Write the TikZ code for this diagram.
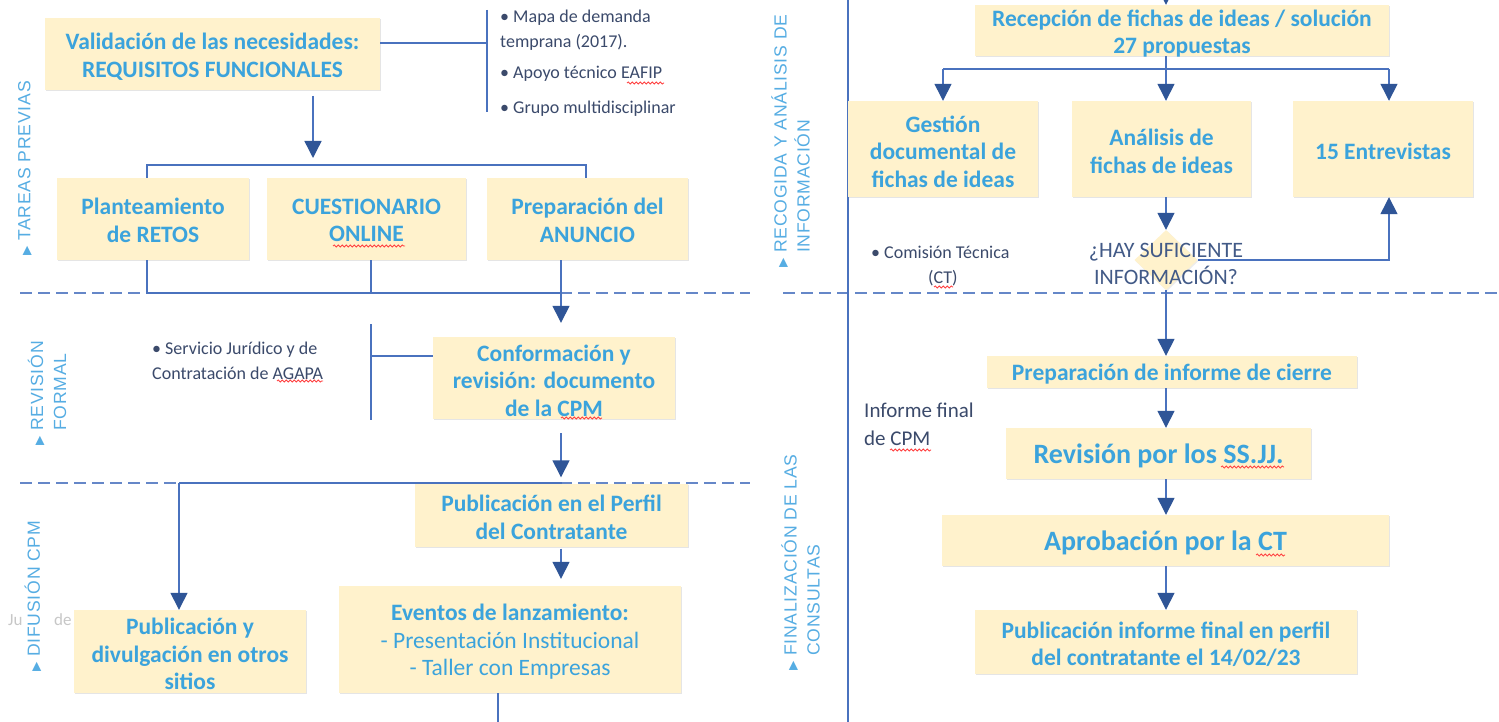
\documentclass[tikz,border=0pt]{standalone}
\usepackage{fontspec}
\setmainfont{Carlito}
\newfontfamily\arialf{Liberation Sans}[LetterSpace=4.5]
\newfontfamily\dejavu{DejaVu Sans}
\usetikzlibrary{arrows.meta,shapes.geometric,shadows,decorations.pathmorphing}
\definecolor{boxfill}{HTML}{FFF2CC}
\definecolor{boxtext}{HTML}{3BA3DC}
\definecolor{linec}{HTML}{4A72BE}
\definecolor{arrowc}{HTML}{2F5597}
\definecolor{sidec}{HTML}{56ADE3}
\definecolor{dtext}{HTML}{3B4A6B}
\definecolor{qc}{HTML}{425A87}
\newcommand\sidetri{{\dejavu\fontsize{12}{12}\selectfont ▶}}
\begin{document}
\begin{tikzpicture}[x=1pt,y=-1pt,
  box/.style={fill=boxfill, inner sep=0pt,
    drop shadow={shadow xshift=1.2pt,shadow yshift=-1.2pt,opacity=0.2}},
  bt/.style={text=boxtext, font=\bfseries\fontsize{23.5}{27.5}\selectfont, align=center, inner sep=0pt},
  bigt/.style={bt, font=\bfseries\fontsize{28}{32}\selectfont},
  ln/.style={draw=linec, line width=1.4pt},
  arr/.style={ln, -{Triangle[width=17pt,length=17pt,color=arrowc]}},
  dl/.style={draw=linec!85, line width=1.4pt, dash pattern=on 12pt off 6pt},
  bul/.style={text=dtext, font=\fontsize{18}{22}\selectfont, inner sep=0pt, anchor=west},
  side/.style={rotate=90, text=sidec, font=\arialf\fontsize{17.6}{23}\selectfont, align=left, inner sep=0pt, anchor=west},
  squig/.style={draw=red!75, line width=0.8pt, decorate, decoration={snake, amplitude=1.1pt, segment length=4pt}}
]
\useasboundingbox (0,0) rectangle (1499,722);
\fill[white] (0,0) rectangle (1499,722);

% dashed separators and vertical separator
\coordinate (d1) at (20,293); \coordinate (d2) at (750,293);
\coordinate (d3) at (783,293); \coordinate (d4) at (1499,293);
\coordinate (d5) at (20,483); \coordinate (d6) at (750,483);
\draw[dl] (d1) -- (d2);
\draw[dl] (d3) -- (d4);
\draw[dl] (d5) -- (d6);
\coordinate (sepT) at (848,0); \coordinate (sepB) at (848,722);
\draw[draw=linec, line width=1.2pt] (sepT) -- (sepB);

% ghost text
\node[text=black!22, font=\fontsize{17}{20}\selectfont, inner sep=0pt, anchor=west] (gj) at (8,620) {Ju};
\node[text=black!22, font=\fontsize{17}{20}\selectfont, inner sep=0pt, anchor=west] (gd) at (54,620) {de};

% side labels
\node[side] (lt) at (25,256) {\sidetri\ TAREAS PREVIAS};
\node[side] (lr) at (47,446) {\sidetri\ REVISIÓN\\\hphantom{\sidetri\ }FORMAL};
\node[side, fill=white, inner sep=2pt] (ld) at (33,674) {\sidetri\ DIFUSIÓN CPM};
\node[side] (lrc) at (790.5,268) {\sidetri\ RECOGIDA Y ANÁLISIS DE\\\hphantom{\sidetri\ }INFORMACIÓN};
\node[side] (lf) at (800.5,671) {\sidetri\ FINALIZACIÓN DE LAS\\\hphantom{\sidetri\ }CONSULTAS};

% left column boxes
\node[box, minimum width=335pt, minimum height=72pt] (val) at (212.5,54) {};
\node[bt] (valt) at ([yshift=-2.5pt]val.center) {Validación de las necesidades:\\REQUISITOS FUNCIONALES};
\node[box, minimum width=192pt, minimum height=82pt] (plan) at (153,219) {};
\node[bt] (plant) at ([yshift=-1.5pt]plan.center) {Planteamiento\\de RETOS};
\node[box, minimum width=199pt, minimum height=82pt] (cuest) at (366.5,219) {};
\node[bt] (cuestt) at ([yshift=-1.5pt]cuest.center) {CUESTIONARIO\\ONLINE};
\node[box, minimum width=201pt, minimum height=82pt] (prep) at (587.5,219) {};
\node[bt] (prept) at ([yshift=-1.5pt]prep.center) {Preparación del\\ANUNCIO};
\node[box, minimum width=242pt, minimum height=82pt] (conf) at (554,378) {};
\node[bt] (conft) at ([yshift=-2.5pt]conf.center) {Conformación y\\revisión: documento\\de la CPM};
\node[box, minimum width=273pt, minimum height=63pt] (pubperf) at (551.5,515) {};
\node[bt] (pubperft) at ([yshift=-2.5pt]pubperf.center) {Publicación en el Perfil\\del Contratante};
\node[box, minimum width=232pt, minimum height=83pt] (pubdiv) at (190,651.5) {};
\node[bt] (pubdivt) at ([yshift=-2.5pt]pubdiv.center) {Publicación y\\divulgación en otros\\sitios};
\node[box, minimum width=342pt, minimum height=107pt] (eventos) at (510,639.5) {};
\node[bt] (eventost) at ([yshift=-2.5pt]eventos.center) {Eventos de lanzamiento:\\{\mdseries - Presentación Institucional}\\{\mdseries - Taller con Empresas}};

% right column boxes
\node[box, minimum width=414pt, minimum height=51pt] (recep) at (1182,30.5) {};
\node[bt] (recept) at ([yshift=-3pt]recep.center) {Recepción de fichas de ideas / solución\\27 propuestas};
\node[box, minimum width=190pt, minimum height=96pt] (gest) at (943,149) {};
\node[bt] (gestt) at ([yshift=-2.5pt]gest.center) {Gestión\\documental de\\fichas de ideas};
\node[box, minimum width=179pt, minimum height=96pt] (anal) at (1161.5,149) {};
\node[bt] (analt) at ([yshift=-2.5pt]anal.center) {Análisis de\\fichas de ideas};
\node[box, minimum width=180pt, minimum height=96pt] (entr) at (1383,149) {};
\node[bt] (entrt) at ([yshift=-2.5pt]entr.center) {15 Entrevistas};
\node[diamond, fill=boxfill, inner sep=0pt, minimum width=63pt, minimum height=60pt,
  drop shadow={shadow xshift=1pt,shadow yshift=-1pt,opacity=0.15}] (dia) at (1166,260) {};
\node[box, minimum width=370pt, minimum height=32pt] (prepinf) at (1172,372) {};
\node[bt] (prepinft) at ([yshift=-2pt]prepinf.center) {Preparación de informe de cierre};
\node[box, minimum width=305pt, minimum height=51pt] (revis) at (1158.5,453.5) {};
\node[bigt] (revist) at ([yshift=-2.5pt]revis.center) {Revisión por los SS.JJ.};
\node[box, minimum width=447pt, minimum height=51pt] (aprob) at (1165.5,540.5) {};
\node[bigt] (aprobt) at ([yshift=-2.5pt]aprob.center) {Aprobación por la CT};
\node[box, minimum width=382pt, minimum height=64pt] (pubinf) at (1166,642) {};
\node[bt] (pubinft) at ([yshift=-2.5pt]pubinf.center) {Publicación informe final en perfil\\del contratante el 14/02/23};

% text notes
\node[bul] (b1) at (500,18) {• Mapa de demanda};
\node[bul] (b1b) at (500,42) {temprana (2017).};
\node[bul] (b2) at (500,74) {• Apoyo técnico EAFIP};
\node[bul] (b3) at (500,109) {• Grupo multidisciplinar};
\node[bul] (sj1) at (152,350) {• Servicio Jurídico y de};
\node[bul] (sj2) at (152,373) {Contratación de AGAPA};
\node[bul] (ct1) at (871,252) {• Comisión Técnica};
\node[bul] (ct2) at (928,278) {(CT)};
\node[bul, font=\fontsize{21}{26}\selectfont] (if1) at (864,410) {Informe final};
\node[bul, font=\fontsize{21}{26}\selectfont] (if2) at (864,438) {de CPM};

% spell-check marks
\coordinate (sq1a) at (333,246); \coordinate (sq1b) at (405,246);
\coordinate (sq2a) at (627,83); \coordinate (sq2b) at (664,83);
\coordinate (sq3a) at (277,381); \coordinate (sq3b) at (323,381);
\coordinate (sq4a) at (561,418); \coordinate (sq4b) at (602,418);
\coordinate (sq5a) at (934,287); \coordinate (sq5b) at (953,287);
\coordinate (sq6a) at (890,450); \coordinate (sq6b) at (931,450);
\coordinate (sq7a) at (1221,467); \coordinate (sq7b) at (1284,467);
\coordinate (sq8a) at (1256,555); \coordinate (sq8b) at (1285,555);
\foreach \i in {1,...,8} { \draw[squig] (sq\i a) -- (sq\i b); }

% left connectors
\coordinate (bm) at (487,43); \coordinate (bt) at (487,10); \coordinate (bb) at (487,112);
\coordinate (vw) at ([yshift=11pt]val.east);
\draw[ln] (vw) -- (bm);
\draw[ln] (bt) -- (bb);
\coordinate (vs) at (313,96); \coordinate (vdn) at (313,158);
\draw[arr] (vs) -- (vdn);
\coordinate (k1) at (147,165); \coordinate (k2) at (586,165);
\draw[ln] (plan.north -| k1) -- (k1) -- (k2) -- (prep.north -| k2);
\coordinate (j1) at (147,293); \coordinate (j2) at (371,293); \coordinate (j3) at (561,293);
\draw[ln] (plan.south -| j1) -- (j1) -- (j3);
\draw[ln] (cuest.south -| j2) -- (j2);
\draw[arr, shorten >=14pt] (prep.south -| j3) -- (conf.north -| j3);
\coordinate (s1) at (371,324); \coordinate (s2) at (371,420);
\draw[ln] (s1) -- (s2);
\coordinate (cw) at ([yshift=22pt]conf.west);
\draw[ln] (cw) -- (cw -| s1);
\draw[arr, shorten <=14pt, shorten >=6pt] (conf.south -| j3) -- (pubperf.north -| j3);
\coordinate (h1) at (179,483); \coordinate (h2) at (562,483);
\draw[ln] (h2) -- (h1);
\draw[arr] (h1) -- (pubdiv.north -| h1);
\draw[arr, shorten <=2pt, shorten >=7pt] (pubperf.south -| j3) -- (eventos.north -| j3);
\coordinate (ev) at (498,730);
\draw[ln] (eventos.south -| ev) -- (ev);

% right connectors
\coordinate (topin) at (1166,-20);
\draw[arr] (topin) -- (recep.north -| topin);
\coordinate (rj) at (1166,69); \coordinate (rx) at (1389,69);
\draw[ln] (recep.south -| rj) -- (rj);
\draw[ln] (rj -| gest.north) -- (rx);
\draw[arr] (rj -| gest.north) -- (gest.north);
\draw[arr] (rj) -- (anal.north -| rj);
\draw[arr] (rx) -- (entr.north -| rx);
\draw[arr] (anal.south -| rj) -- (dia.north);
\draw[arr] (dia.east) -| (entr.south -| rx);
\draw[arr] (dia.south) -- (prepinf.north -| dia.south);
\draw[arr] (prepinf.south -| rj) -- (revis.north -| rj);
\draw[arr] (revis.south -| rj) -- (aprob.north -| rj);
\draw[arr] (aprob.south -| rj) -- (pubinf.north -| rj);

% question text on top of diamond
\node[text=qc, font=\fontsize{22}{27}\selectfont, align=center, inner sep=0pt] (q) at (1166,264) {¿HAY SUFICIENTE\\INFORMACIÓN?};
\end{tikzpicture}
\end{document}
